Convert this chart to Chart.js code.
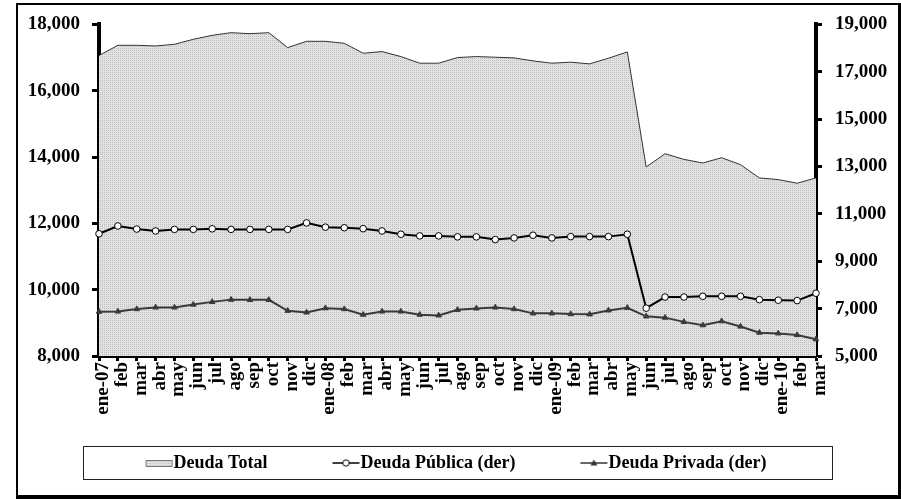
<!DOCTYPE html>
<html>
<head>
<meta charset="utf-8">
<script src="https://cdn.jsdelivr.net/npm/chart.js@4.4.1/dist/chart.umd.min.js"></script>
<style>
    body { margin: 0; background: #fff; }
    #wrap { position: relative; width: 901px; height: 499px; }
    #frame {
        position: absolute; left: 16px; top: 3px; right: 0; bottom: 0;
        border-left: 2px solid #000; border-top: 2px solid #000;
        border-right: 3px solid #000; border-bottom: 4px solid #000;
        pointer-events: none;
    }
    #legend-box {
        position: absolute; left: 83px; top: 446px; width: 748px; height: 32px;
        border: 1px solid #222; pointer-events: none;
    }
</style>
</head>
<body>
<div id="wrap">
    <canvas id="chart" width="901" height="499"></canvas>
    <div id="frame"></div>
    <div id="legend-box"></div>
</div>
<script>
const labels = ["ene-07", "feb", "mar", "abr", "may", "jun", "jul", "ago", "sep", "oct", "nov", "dic",
    "ene-08", "feb", "mar", "abr", "may", "jun", "jul", "ago", "sep", "oct", "nov", "dic",
    "ene-09", "feb", "mar", "abr", "may", "jun", "jul", "ago", "sep", "oct", "nov", "dic",
    "ene-10", "feb", "mar"];

// Deuda Total (eje izquierdo)
const deudaTotal = [17060, 17370, 17370, 17350, 17400, 17550, 17670, 17750, 17720, 17750, 17300, 17490,
    17490, 17430, 17130, 17180, 17030, 16830, 16830, 17000, 17030, 17010, 16990, 16900,
    16830, 16860, 16810, 16980, 17170, 13700, 14100, 13930, 13820, 13980, 13770, 13370,
    13320, 13210, 13370];

// Deuda Pública (eje derecho)
const deudaPublica = [10160, 10490, 10360, 10280, 10345, 10345, 10370, 10345, 10345, 10345, 10345, 10620,
    10440, 10415, 10375, 10280, 10140, 10070, 10070, 10030, 10030, 9915, 9985, 10100,
    9985, 10040, 10040, 10040, 10140, 7020, 7490, 7490, 7520, 7520, 7520, 7380,
    7355, 7340, 7650];

// Deuda Privada (eje derecho)
const deudaPrivada = [6870, 6880, 6980, 7050, 7050, 7170, 7285, 7380, 7370, 7370, 6910, 6840,
    7020, 6980, 6745, 6880, 6880, 6745, 6715, 6950, 7010, 7050, 6980, 6800,
    6800, 6770, 6760, 6925, 7035, 6675, 6620, 6440, 6300, 6470, 6245, 5985,
    5955, 5885, 5705];

const FONT = "'Liberation Serif', 'Times New Roman', serif";

function makePattern() {
    const c = document.createElement("canvas");
    c.width = 2;
    c.height = 2;
    const g = c.getContext("2d");
    g.fillStyle = "#e2e2e2";
    g.fillRect(0, 0, 2, 2);
    g.fillStyle = "#c0c0c0";
    g.fillRect(0, 0, 1, 1);
    return g.createPattern(c, "repeat");
}

// legend marker images: drawn at the right end of a wider transparent canvas
function legendImage(kind) {
    const c = document.createElement("canvas");
    c.width = 92;
    c.height = 12;
    const g = c.getContext("2d");
    const x0 = c.width - 28, x1 = c.width - 1, cy = 6;
    if (kind === "area") {
        g.fillStyle = makePattern();
        g.fillRect(x0, 3, 27, 7);
        g.strokeStyle = "#777";
        g.lineWidth = 1;
        g.strokeRect(x0 + 0.5, 3.5, 26, 6);
    } else {
        g.strokeStyle = kind === "circle" ? "#000" : "#333";
        g.lineWidth = 1.5;
        g.beginPath();
        g.moveTo(x0, cy);
        g.lineTo(x1, cy);
        g.stroke();
        if (kind === "circle") {
            g.fillStyle = "#fff";
            g.strokeStyle = "#000";
            g.lineWidth = 1;
            g.beginPath();
            g.arc((x0 + x1) / 2, cy, 3.2, 0, Math.PI * 2);
            g.fill();
            g.stroke();
        } else {
            g.fillStyle = "#333";
            g.beginPath();
            const mx = (x0 + x1) / 2;
            g.moveTo(mx, cy - 3.5);
            g.lineTo(mx + 3.5, cy + 2.5);
            g.lineTo(mx - 3.5, cy + 2.5);
            g.closePath();
            g.fill();
        }
    }
    return c;
}

const legendImages = [legendImage("area"), legendImage("circle"), legendImage("triangle")];

const tickFmt = (v) => v.toLocaleString("en-US");

// the legend row sits a bit left of the canvas centre in the original
const legendShift = {
    id: "legendShift",
    afterLayout(chart) {
        chart.legend.right -= 44;
    },
};

const ctx = document.getElementById("chart").getContext("2d");
new Chart(ctx, {
    type: "line",
    data: {
        labels: labels,
        datasets: [
            {
                label: "Deuda Total",
                data: deudaTotal,
                yAxisID: "y",
                fill: "start",
                backgroundColor: makePattern(),
                borderColor: "#333",
                borderWidth: 1,
                pointRadius: 0,
                tension: 0,
                order: 3,
            },
            {
                label: "Deuda Pública (der)",
                data: deudaPublica,
                yAxisID: "y1",
                borderColor: "#000",
                borderWidth: 2,
                pointStyle: "circle",
                pointRadius: 3.3,
                pointBackgroundColor: "#fff",
                pointBorderColor: "#000",
                pointBorderWidth: 1,
                fill: false,
                tension: 0,
                order: 1,
            },
            {
                label: "Deuda Privada (der)",
                data: deudaPrivada,
                yAxisID: "y1",
                borderColor: "#3a3a3a",
                borderWidth: 2,
                pointStyle: "triangle",
                pointRadius: 3.2,
                pointBackgroundColor: "#3a3a3a",
                pointBorderColor: "#3a3a3a",
                pointBorderWidth: 1,
                fill: false,
                tension: 0,
                order: 2,
            },
        ],
    },
    options: {
        responsive: false,
        animation: false,
        layout: {
            padding: { top: 19, bottom: 17, left: 0, right: 0 },
        },
        plugins: {
            tooltip: { enabled: false },
            legend: {
                position: "bottom",
                labels: {
                    usePointStyle: true,
                    pointStyleWidth: 74,
                    padding: 10,
                    color: "#000",
                    font: { family: FONT, size: 18, weight: "bold" },
                    sort: (a, b) => a.datasetIndex - b.datasetIndex,
                    generateLabels: (chart) => {
                        const items = Chart.defaults.plugins.legend.labels.generateLabels(chart);
                        items.forEach((item) => {
                            item.pointStyle = legendImages[item.datasetIndex];
                        });
                        return items;
                    },
                },
            },
        },
        scales: {
            x: {
                offset: false,
                grid: {
                    display: true,
                    drawOnChartArea: false,
                    drawTicks: true,
                    tickLength: 5,
                    tickWidth: 3,
                    tickColor: "#000",
                },
                border: { display: true, color: "#000", width: 4 },
                ticks: {
                    autoSkip: false,
                    maxRotation: 90,
                    minRotation: 90,
                    padding: 1,
                    labelOffset: 4,
                    color: "#000",
                    font: { family: FONT, size: 19, weight: "bold" },
                },
                afterFit: (scale) => {
                    scale.height = 88;
                },
            },
            y: {
                position: "left",
                min: 8000,
                max: 18000,
                grid: {
                    display: true,
                    drawOnChartArea: false,
                    tickLength: 7,
                    tickWidth: 3,
                    tickColor: "#000",
                },
                border: { display: true, color: "#000", width: 4 },
                ticks: {
                    stepSize: 2000,
                    padding: 12,
                    color: "#000",
                    font: { family: FONT, size: 19, weight: "bold" },
                    callback: tickFmt,
                },
                afterFit: (scale) => {
                    scale.width = 99;
                },
            },
            y1: {
                position: "right",
                min: 5000,
                max: 19000,
                grid: {
                    display: true,
                    drawOnChartArea: false,
                    tickLength: 6,
                    tickWidth: 3,
                    tickColor: "#000",
                },
                border: { display: true, color: "#000", width: 4 },
                ticks: {
                    stepSize: 2000,
                    padding: 13,
                    color: "#000",
                    font: { family: FONT, size: 19, weight: "bold" },
                    callback: tickFmt,
                },
                afterFit: (scale) => {
                    scale.width = 85;
                },
            },
        },
    },
    plugins: [legendShift],
});
</script>
</body>
</html>
